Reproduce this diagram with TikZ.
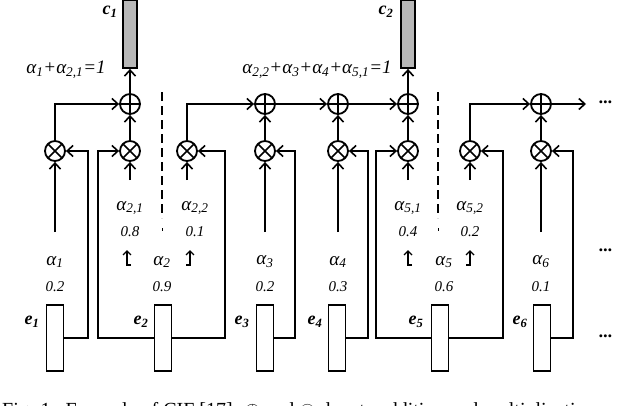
\documentclass[tikz,border=0pt]{standalone}
\usepackage{fontspec}
\setmainfont{Liberation Serif}
\usetikzlibrary{arrows.meta}
\newcommand\alfont{\fontsize{19pt}{21pt}\selectfont\itshape}
\newcommand\numfont{\fontsize{15pt}{17pt}\selectfont\itshape}
\newcommand\labfont{\fontsize{18pt}{20pt}\selectfont\bfseries\itshape}
\newcommand\capfont{\fontsize{20pt}{22pt}\selectfont}
\newcommand\al{\textit{α}}
\begin{document}
\begin{tikzpicture}[x=1pt,y=-1pt,line width=1.8pt,
  arr/.style={-{Straight Barb[length=6pt,width=11pt,line width=1.6pt]}},
  opl/.style={circle,draw,minimum size=20pt,inner sep=0pt,
    path picture={\draw[line width=1.6pt] (path picture bounding box.north)--(path picture bounding box.south) (path picture bounding box.west)--(path picture bounding box.east);}},
  oti/.style={circle,draw,minimum size=20pt,inner sep=0pt,
    path picture={\draw[line width=1.6pt] (path picture bounding box.north west)--(path picture bounding box.south east) (path picture bounding box.south west)--(path picture bounding box.north east);}},
  ebox/.style={draw,fill=white,minimum width=17pt,minimum height=66pt,inner sep=0pt},
  cbox/.style={draw,fill=black!28,minimum width=14pt,minimum height=68pt,inner sep=0pt},
  alst/.style={font=\alfont,inner sep=0pt},
  num/.style={font=\numfont,inner sep=0pt},
  lab/.style={font=\labfont,inner sep=0pt}]
\useasboundingbox (0,0) rectangle (640,405);
\clip (0,0) rectangle (640,405);
% boxes
\foreach \n/\x in {1/55,2/163,3/265,4/337,5/440,6/542}{\node[ebox] (e\n) at (\x,338) {};}
\node[cbox] (c1) at (130,34) {};
\node[cbox] (c2) at (408,34) {};
\node[lab] (le1) at (32,322) {e\textsubscript{1}};
\node[lab] (le2) at (141,322) {e\textsubscript{2}};
\node[lab] (le3) at (242,322) {e\textsubscript{3}};
\node[lab] (le4) at (315,322) {e\textsubscript{4}};
\node[lab] (le5) at (416,322) {e\textsubscript{5}};
\node[lab] (le6) at (520,322) {e\textsubscript{6}};
\node[lab] (lc1) at (110,12) {c\textsubscript{1}};
\node[lab] (lc2) at (386,12) {c\textsubscript{2}};
% operators
\foreach \n/\x in {1/55,2/130,3/187,4/265,5/338,6/408,7/470,8/541}{\node[oti] (m\n) at (\x,151) {};}
\foreach \n/\x in {2/130,4/265,5/338,6/408,8/541}{\node[opl] (p\n) at (\x,104) {};}
% up arrows from alphas
\foreach \n/\x/\y in {1/55/232,2/130/180,3/187/180,4/265/232,5/338/232,6/408/180,7/470/180,8/541/232}{\draw[arr] (\x,\y) -- (m\n);}
\foreach \n in {2,4,5,6,8}{\draw[arr] (m\n) -- (p\n);}
\draw[arr] (m1) |- (p2);
\draw[arr] (m3) |- (p4);
\draw[arr] (m7) |- (p8);
\draw[arr] (p4) -- (p5);
\draw[arr] (p5) -- (p6);
\draw[arr] (p2) -- (c1);
\draw[arr] (p6) -- (c2);
\coordinate (end) at (586,104);
\draw[arr] (p8) -- (end);
% feedback lines
\draw[arr] (e1.east) -- (88,338) |- (m1);
\draw[arr] (e2.west) -- (98,338) |- (m2);
\draw[arr] (e2.east) -- (225,338) |- (m3);
\draw[arr] (e3.east) -- (295,338) |- (m4);
\draw[arr] (e4.east) -- (368,338) |- (m5);
\draw[arr] (e5.west) -- (376,338) |- (m6);
\draw[arr] (e5.east) -- (503,338) |- (m7);
\draw[arr] (e6.east) -- (573,338) |- (m8);
% dashed separators
\draw[dashed,dash pattern=on 9pt off 5pt] (162,92) -- (162,218);
\draw[line width=1pt] (162,228) -- (162,231);
\draw[dashed,dash pattern=on 9pt off 5pt] (438,92) -- (438,218);
\draw[line width=1pt] (438,228) -- (438,231);
% alpha labels
\foreach \x/\a/\v in {55/1/0.2,162/2/0.9,265/3/0.2,338/4/0.3,444/5/0.6,541/6/0.1}{
  \node[alst] at (\x,262) {\al\textsubscript{\a}};
  \node[num] at (\x,287) {\v};}
\foreach \x/\a/\v in {130/{2,1}/0.8,195/{2,2}/0.1,408/{5,1}/0.4,470/{5,2}/0.2}{
  \node[alst] at (\x,208) {\al\textsubscript{\a}};
  \node[num] at (\x,232) {\v};}
% small bent arrows
\foreach \x/\d in {127/4,190/-4,408/4,470/-4}{
  \draw[line width=1.5pt,-{Straight Barb[length=4pt,width=8pt,line width=1.4pt]}] (\x+\d,265) -- (\x,265) -- (\x,250);}
% sums
\node[alst] (s1) at (66,70) {\al\textsubscript{1}+\al\textsubscript{2,1}=1};
\node[alst] (s2) at (317,70) {\al\textsubscript{2,2}+\al\textsubscript{3}+\al\textsubscript{4}+\al\textsubscript{5,1}=1};
% dots
\foreach \y in {102,250,336}{\node[font=\labfont] at (606,\y) {...};}
% caption (cut off)
\node[font=\capfont,anchor=west] at (-2,412) {Fig. 1.\ \ Example of CIF [17]. $\oplus$ and $\otimes$ denote addition and multiplication};
\end{tikzpicture}
\end{document}
